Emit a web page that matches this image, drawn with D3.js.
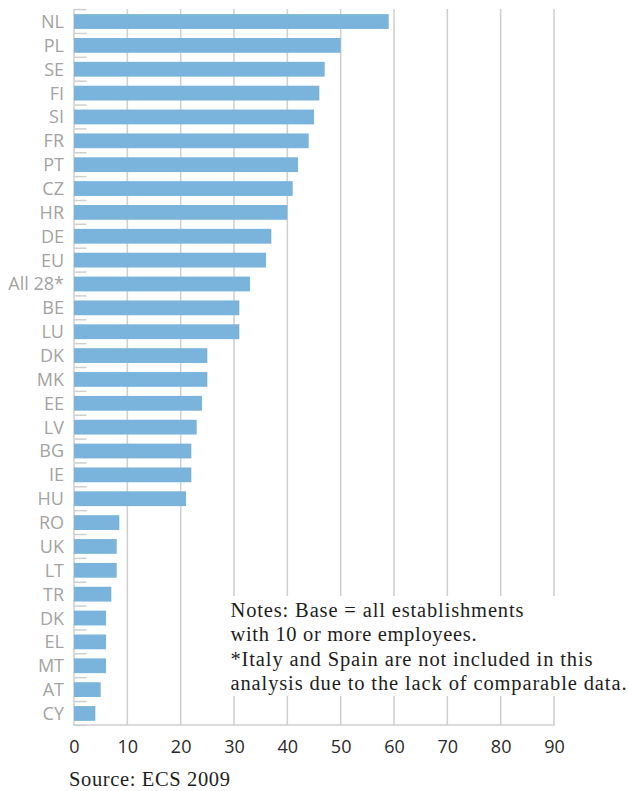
<!DOCTYPE html>
<html>
<head>
<meta charset="utf-8">
<script src="https://cdn.jsdelivr.net/npm/d3@7/dist/d3.min.js"></script>
<style>
  html, body { margin: 0; padding: 0; background: #fff; }
  svg { display: block; }
</style>
</head>
<body>
<svg id="chart" width="628" height="791"></svg>
<script>
const categories = ["NL","PL","SE","FI","SI","FR","PT","CZ","HR","DE","EU","All 28*","BE","LU","DK","MK","EE","LV","BG","IE","HU","RO","UK","LT","TR","DK","EL","MT","AT","CY"];
const values = [59,50,47,46,45,44,42,41,40,37,36,33,31,31,25,25,24,23,22,22,21,8.5,8,8,7,6,6,6,5,4];
const xTicks = [0,10,20,30,40,50,60,70,80,90];
const notes = [
  "Notes: Base = all establishments",
  "with 10 or more employees.",
  "*Italy and Spain are not included in this",
  "analysis due to the lack of comparable data."
];
const source = "Source: ECS 2009";

const svg = d3.select("#chart");
const x = d3.scaleLinear().domain([0, 90]).range([74, 554]);
const y = d3.scaleBand().domain(d3.range(categories.length)).range([9.6, 725.4]).paddingInner(0.38).paddingOuter(0.19);
const step = y.step();
const yTop = 9, yBottom = 725;
const grey = "#cfcfcf";

// gridlines
svg.append("g").selectAll("line").data(xTicks.filter(d => d > 0)).join("line")
  .attr("x1", d => x(d)).attr("x2", d => x(d))
  .attr("y1", yTop).attr("y2", yBottom)
  .attr("stroke", grey).attr("stroke-width", 1.5);

// category boundary ticks
svg.append("g").selectAll("line").data(d3.range(categories.length + 1)).join("line")
  .attr("x1", x(0)).attr("x2", x(0) + 12.5)
  .attr("y1", i => y.range()[0] + i * step).attr("y2", i => y.range()[0] + i * step)
  .attr("stroke", grey).attr("stroke-width", 1.5);

// left axis line
svg.append("line").attr("x1", x(0)).attr("x2", x(0)).attr("y1", yTop).attr("y2", yBottom)
  .attr("stroke", grey).attr("stroke-width", 1.5);

// bottom axis line
svg.append("line").attr("x1", x(0) - 0.75).attr("x2", x(90) + 0.75).attr("y1", yBottom).attr("y2", yBottom)
  .attr("stroke", grey).attr("stroke-width", 1.5);

// bars
svg.append("g").selectAll("rect").data(values).join("rect")
  .attr("x", x(0))
  .attr("y", (d, i) => y(i))
  .attr("width", d => x(d) - x(0))
  .attr("height", y.bandwidth())
  .attr("fill", "#7ab4dc");

// category labels
const yAxis = d3.axisLeft(y).tickSize(0).tickPadding(0).tickFormat(i => categories[i]);
const gy = svg.append("g").attr("transform", "translate(64,0)").call(yAxis);
gy.select(".domain").remove();
gy.selectAll("text")
  .attr("font-family", "'Open Sans', sans-serif")
  .attr("font-size", 18)
  .attr("fill", "#a3a3a3")
  .attr("dy", "0.36em");

// x tick labels
const xAxis = d3.axisBottom(x).tickValues(xTicks).tickSize(0).tickPadding(0).tickFormat(d3.format("d"));
const gx = svg.append("g").attr("transform", `translate(0,${yBottom})`).call(xAxis);
gx.select(".domain").remove();
gx.selectAll("text")
  .attr("y", 28).attr("dy", "0")
  .attr("font-family", "'Open Sans', sans-serif")
  .attr("font-size", 18)
  .attr("fill", "#2a2a2a");

// notes box
svg.append("rect").attr("x", 225).attr("y", 596).attr("width", 403).attr("height", 100).attr("fill", "#fff");
const notesWidths = [293, 246, 362, 396];
svg.append("g").selectAll("text").data(notes).join("text")
  .attr("x", 230.5)
  .attr("y", (d, i) => 617 + i * 24.3)
  .attr("font-family", "'Liberation Serif', serif")
  .attr("font-size", 20.5)
  .attr("fill", "#1e1e1e")
  .attr("textLength", (d, i) => notesWidths[i])
  .attr("lengthAdjust", "spacing")
  .text(d => d);

svg.append("text")
  .attr("x", 69).attr("y", 786)
  .attr("font-family", "'Liberation Serif', serif")
  .attr("font-size", 20.5)
  .attr("fill", "#1e1e1e")
  .attr("textLength", 161)
  .attr("lengthAdjust", "spacing")
  .text(source);
</script>
</body>
</html>
